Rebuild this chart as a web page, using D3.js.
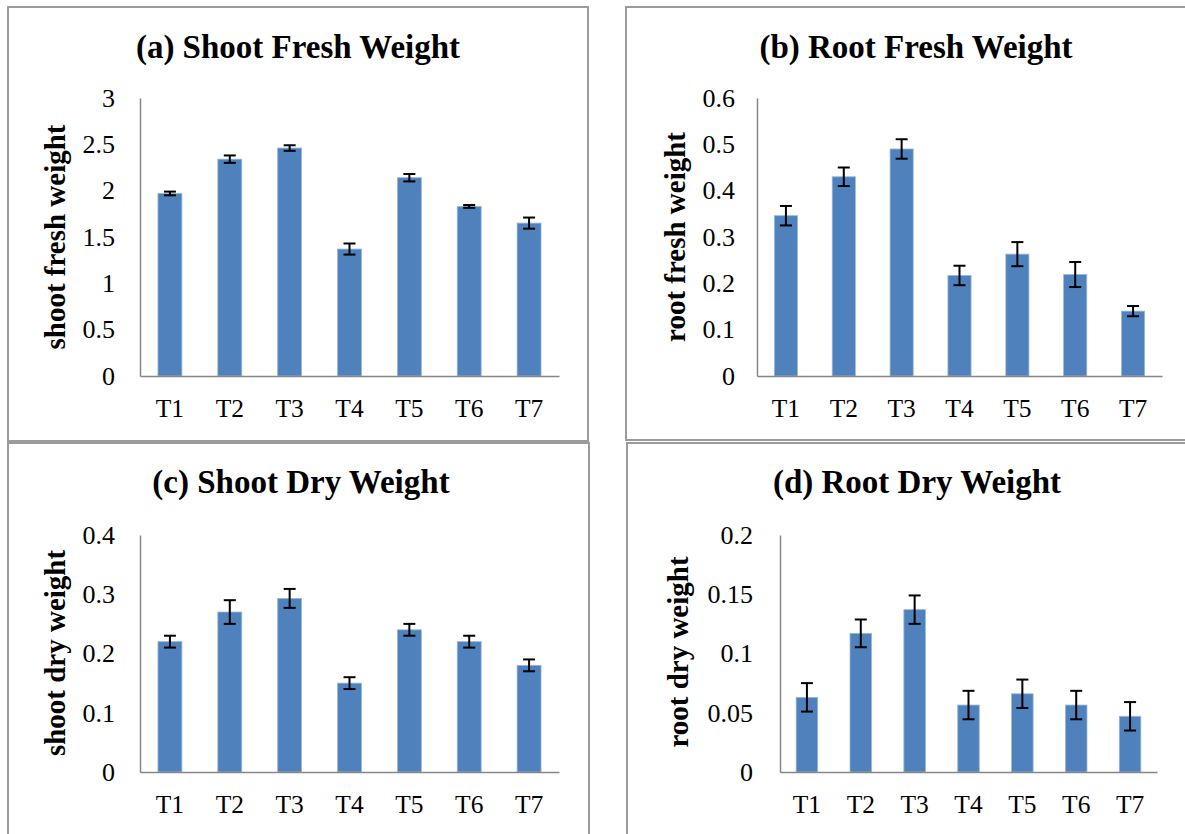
<!DOCTYPE html>
<html>
<head>
<meta charset="utf-8">
<script src="https://cdn.jsdelivr.net/npm/d3@7"></script>
<style>
  html, body { margin: 0; padding: 0; background: #ffffff; }
  svg { display: block; }
  text { font-family: "Liberation Serif", "Times New Roman", serif; fill: #000; }
</style>
</head>
<body>
<svg id="chart" width="1185" height="834"></svg>
<script>
// ---------------- data ----------------
const categories = ["T1", "T2", "T3", "T4", "T5", "T6", "T7"];

const shootFresh    = [1.97, 2.34, 2.46, 1.37, 2.14, 1.83, 1.65];
const shootFreshErr = [0.02, 0.04, 0.03, 0.06, 0.04, 0.015, 0.06];
const shootFreshTicks = [0, 0.5, 1, 1.5, 2, 2.5, 3];

const rootFresh    = [0.346, 0.43, 0.49, 0.217, 0.263, 0.219, 0.14];
const rootFreshErr = [0.021, 0.02, 0.021, 0.021, 0.026, 0.027, 0.011];
const rootFreshTicks = [0, 0.1, 0.2, 0.3, 0.4, 0.5, 0.6];

const shootDry    = [0.22, 0.27, 0.293, 0.15, 0.24, 0.22, 0.18];
const shootDryErr = [0.01, 0.02, 0.016, 0.01, 0.01, 0.01, 0.01];
const shootDryTicks = [0, 0.1, 0.2, 0.3, 0.4];

const rootDry    = [0.063, 0.117, 0.137, 0.0565, 0.066, 0.0565, 0.047];
const rootDryErr = [0.012, 0.0117, 0.012, 0.012, 0.012, 0.012, 0.012];
const rootDryTicks = [0, 0.05, 0.1, 0.15, 0.2];

const titles = ["(a) Shoot Fresh Weight", "(b) Root Fresh Weight", "(c) Shoot Dry Weight", "(d) Root Dry Weight"];
const yTitles = ["shoot fresh weight", "root fresh weight", "shoot dry weight", "root dry weight"];

// ---------------- layout ----------------
const panels = [
  { values: shootFresh, errs: shootFreshErr, ticks: shootFreshTicks, title: titles[0], yTitle: yTitles[0],
    box: [8, 7, 580, 434], plot: [140, 98, 559, 376], tickPad: 25, titleX: 298, titleY: 58, yTitleX: 58.5, yTitleY: 237 },
  { values: rootFresh, errs: rootFreshErr, ticks: rootFreshTicks, title: titles[1], yTitle: yTitles[1],
    box: [626, 7, 580, 433], plot: [757, 98, 1162, 376], tickPad: 22, titleX: 916, titleY: 58, yTitleX: 678, yTitleY: 237 },
  { values: shootDry, errs: shootDryErr, ticks: shootDryTicks, title: titles[2], yTitle: yTitles[2],
    box: [8, 443, 581, 460], plot: [140, 535, 559, 772], tickPad: 25, titleX: 301, titleY: 493, yTitleX: 58.5, yTitleY: 653 },
  { values: rootDry, errs: rootDryErr, ticks: rootDryTicks, title: titles[3], yTitle: yTitles[3],
    box: [627, 443, 580, 460], plot: [780, 535, 1157, 772], tickPad: 27, titleX: 917, titleY: 493, yTitleX: 681.5, yTitleY: 652 }
];

const svg = d3.select("#chart");
svg.append("rect").attr("width", 1185).attr("height", 834).attr("fill", "#fff");

panels.forEach(p => {
  const g = svg.append("g");
  // panel border
  g.append("rect")
    .attr("x", p.box[0]).attr("y", p.box[1])
    .attr("width", p.box[2]).attr("height", p.box[3])
    .attr("fill", "none").attr("stroke", "#9b9b9b").attr("stroke-width", 2);

  const [x0, y0, x1, y1] = p.plot;
  const x = d3.scaleBand().domain(categories).range([x0, x1]).paddingInner(0.6).paddingOuter(0.3);
  const y = d3.scaleLinear().domain([p.ticks[0], p.ticks[p.ticks.length - 1]]).range([y1, y0]);

  // bars
  g.selectAll("rect.bar").data(categories).join("rect")
    .attr("class", "bar")
    .attr("x", d => x(d))
    .attr("width", x.bandwidth())
    .attr("y", (d, i) => y(p.values[i]))
    .attr("height", (d, i) => y(0) - y(p.values[i]))
    .attr("fill", "#4f81bd")
    .attr("stroke", "#9ab7db").attr("stroke-width", 0.8);

  // error bars
  const cap = 6;
  const eb = g.selectAll("g.err").data(categories).join("g").attr("class", "err")
    .attr("stroke", "#000").attr("stroke-width", 2);
  eb.append("line")
    .attr("x1", d => x(d) + x.bandwidth() / 2).attr("x2", d => x(d) + x.bandwidth() / 2)
    .attr("y1", (d, i) => y(p.values[i] + p.errs[i])).attr("y2", (d, i) => y(p.values[i] - p.errs[i]));
  eb.append("line")
    .attr("x1", d => x(d) + x.bandwidth() / 2 - cap).attr("x2", d => x(d) + x.bandwidth() / 2 + cap)
    .attr("y1", (d, i) => y(p.values[i] + p.errs[i])).attr("y2", (d, i) => y(p.values[i] + p.errs[i]));
  eb.append("line")
    .attr("x1", d => x(d) + x.bandwidth() / 2 - cap).attr("x2", d => x(d) + x.bandwidth() / 2 + cap)
    .attr("y1", (d, i) => y(p.values[i] - p.errs[i])).attr("y2", (d, i) => y(p.values[i] - p.errs[i]));

  // y axis
  const ya = g.append("g").attr("transform", `translate(${x0},0)`)
    .call(d3.axisLeft(y).tickValues(p.ticks).tickFormat(d => String(d)).tickSize(0).tickPadding(p.tickPad));
  ya.select(".domain").attr("stroke", "#868686").attr("stroke-width", 1.5);
  ya.selectAll("text").attr("font-family", "Liberation Serif, serif").attr("font-size", 26).attr("fill", "#000");

  // x axis
  const xa = g.append("g").attr("transform", `translate(0,${y1})`)
    .call(d3.axisBottom(x).tickSize(0).tickPadding(23).tickSizeOuter(0));
  xa.select(".domain").attr("stroke", "#868686").attr("stroke-width", 1.5);
  xa.selectAll("text").attr("font-family", "Liberation Serif, serif").attr("font-size", 25.5).attr("fill", "#000");

  // title
  g.append("text").attr("x", p.titleX).attr("y", p.titleY)
    .attr("text-anchor", "middle").attr("font-weight", "bold").attr("font-size", 33)
    .text(p.title);

  // y axis title
  g.append("text")
    .attr("transform", `translate(${p.yTitleX + 6.5},${p.yTitleY}) rotate(-90)`)
    .attr("text-anchor", "middle").attr("font-weight", "bold").attr("font-size", 29)
    .text(p.yTitle);
});
</script>
</body>
</html>
